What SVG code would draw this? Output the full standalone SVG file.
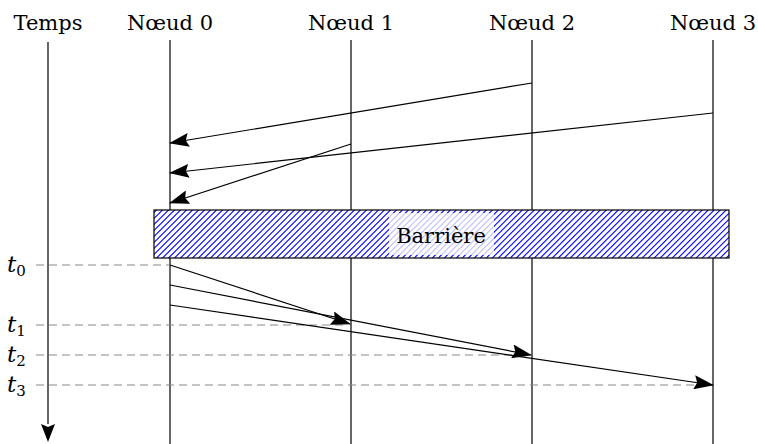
<svg xmlns="http://www.w3.org/2000/svg" width="758" height="444" viewBox="0 0 758 444">
<style>
text{font-family:"DejaVu Serif",serif}
.lbl{font-size:21px;fill:#000;text-anchor:middle}
.tl{font-size:23px;font-style:italic;fill:#000}
.sub{font-size:15px;font-style:normal}
.life{stroke:#000;stroke-width:1.2;fill:none}
.msg{stroke:#000;stroke-width:1.2;fill:none;marker-end:url(#ah)}
.dash{stroke:#888;stroke-width:1;stroke-dasharray:8 5;fill:none}
</style>
<defs>
<marker id="ah" viewBox="0 0 20 14" refX="19" refY="7" markerWidth="20" markerHeight="14" markerUnits="userSpaceOnUse" orient="auto">
<path d="M0,0 L20,7 L0,14 L3,7 Z" fill="#000"/>
</marker>
<clipPath id="bclip"><rect x="154" y="210" width="575" height="48"/></clipPath>
</defs>
<g id="time-axis">
<text class="lbl" x="48" y="30">Temps</text>
<line x1="48" y1="42" x2="48" y2="424" class="life"/>
<path d="M41,424 L48,442 L55,424 L48,427 Z" fill="#000"/>
</g>
<g id="node0"><text class="lbl" x="170" y="30">Nœud 0</text><line x1="170" y1="40" x2="170" y2="444" class="life"/></g>
<g id="node1"><text class="lbl" x="351" y="30">Nœud 1</text><line x1="351" y1="40" x2="351" y2="444" class="life"/></g>
<g id="node2"><text class="lbl" x="532" y="30">Nœud 2</text><line x1="532" y1="40" x2="532" y2="444" class="life"/></g>
<g id="node3"><text class="lbl" x="713" y="30">Nœud 3</text><line x1="713" y1="40" x2="713" y2="444" class="life"/></g>
<g id="barrier">
<rect x="154" y="210" width="575" height="48" fill="#fff"/>
<g clip-path="url(#bclip)">
<line x1="0" y1="0" x2="1000" y2="1000" stroke="#0000ff" stroke-width="1000" stroke-dasharray="1.1 3.14"/>
</g>
<rect x="154" y="210" width="575" height="48" fill="none" stroke="#000" stroke-width="1.2"/>
<rect x="389" y="213" width="105" height="42" fill="#fff" fill-opacity="0.75"/>
<text class="lbl" x="441" y="243">Barrière</text>
</g>
<g id="time-marks">
<line x1="36" y1="265" x2="170" y2="265" class="dash"/>
<line x1="36" y1="325" x2="345" y2="325" class="dash"/>
<line x1="36" y1="355" x2="530" y2="355" class="dash"/>
<line x1="36" y1="385" x2="711" y2="385" class="dash"/>
<text class="tl" x="7" y="272">t<tspan class="sub" dy="4">0</tspan></text>
<text class="tl" x="7" y="332">t<tspan class="sub" dy="4">1</tspan></text>
<text class="tl" x="7" y="362">t<tspan class="sub" dy="4">2</tspan></text>
<text class="tl" x="7" y="392">t<tspan class="sub" dy="4">3</tspan></text>
</g>
<g id="connectors">
<line x1="532" y1="83" x2="170" y2="143" class="msg"/>
<line x1="713" y1="113" x2="170" y2="173" class="msg"/>
<line x1="351" y1="144" x2="170" y2="203" class="msg"/>
<line x1="170" y1="265" x2="350" y2="324" class="msg"/>
<line x1="170" y1="285" x2="531" y2="355" class="msg"/>
<line x1="170" y1="305" x2="713" y2="385" class="msg"/>
</g>
</svg>
